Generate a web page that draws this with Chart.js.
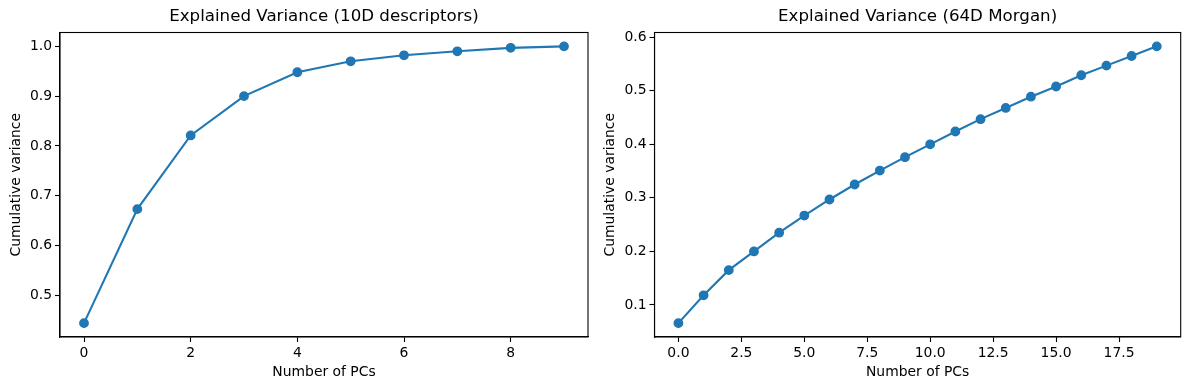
<!DOCTYPE html>
<html>
<head>
<meta charset="utf-8">
<script src="https://cdn.jsdelivr.net/npm/chart.js@4/dist/chart.umd.min.js"></script>
<style>
  html, body { margin: 0; padding: 0; background: #fff; }
  body { width: 1189px; height: 390px; position: relative; overflow: hidden; }
  canvas { position: absolute; top: 0; }
</style>
</head>
<body>
<canvas id="left" width="594" height="390" style="left:0px"></canvas>
<canvas id="right" width="595" height="390" style="left:594px"></canvas>
<script>
// ---- data ----
const leftTitle = "Explained Variance (10D descriptors)";
const rightTitle = "Explained Variance (64D Morgan)";
const xAxisTitle = "Number of PCs";
const yAxisTitle = "Cumulative variance";

const pcsLeft = [0, 1, 2, 3, 4, 5, 6, 7, 8, 9];
const varianceLeft = [0.444, 0.673, 0.821, 0.900, 0.948, 0.970, 0.982, 0.990, 0.997, 1.000];

const pcsRight = [0, 1, 2, 3, 4, 5, 6, 7, 8, 9, 10, 11, 12, 13, 14, 15, 16, 17, 18, 19];
const varianceRight = [0.066, 0.118, 0.165, 0.200, 0.235, 0.267, 0.297, 0.325, 0.351, 0.376,
                       0.400, 0.424, 0.447, 0.468, 0.489, 0.508, 0.529, 0.547, 0.565, 0.583];

const xTicksLeft = [0, 2, 4, 6, 8];
const yTicksLeft = [0.5, 0.6, 0.7, 0.8, 0.9, 1.0];
const xTicksRight = [0, 2.5, 5, 7.5, 10, 12.5, 15, 17.5];
const yTicksRight = [0.1, 0.2, 0.3, 0.4, 0.5, 0.6];

// ---- styling ----
Chart.defaults.color = '#000';
Chart.defaults.font.family = '"DejaVu Sans", sans-serif';
const lineColor = '#1f77b4';
const tickFont = { family: '"DejaVu Sans", sans-serif', size: 13.9 };

const frame = {
  id: 'frame',
  afterDatasetsDraw(chart) {
    const a = chart.chartArea, c = chart.ctx;
    c.save();
    c.strokeStyle = '#000';
    c.lineWidth = 1.1;
    c.strokeRect(a.left, a.top, a.right - a.left, a.bottom - a.top);
    c.restore();
  }
};

function margins(arr) {
  const lo = Math.min(...arr), hi = Math.max(...arr), r = hi - lo;
  return [lo - 0.05 * r, hi + 0.05 * r];
}

function makeChart(id, title, xs, ys, xTicks, yTicks, xDigits, yAxisWidth, rightPad) {
  const [xmin, xmax] = margins(xs);
  const [ymin, ymax] = margins(ys);
  const pts = xs.map((x, i) => ({ x: x, y: ys[i] }));
  return new Chart(document.getElementById(id), {
    type: 'scatter',
    data: {
      datasets: [{
        data: pts,
        showLine: true,
        borderColor: lineColor,
        backgroundColor: lineColor,
        borderWidth: 2.1,
        pointRadius: 4.2,
        pointHoverRadius: 4.2,
        pointBorderWidth: 1.4,
        pointBorderColor: lineColor,
        tension: 0
      }]
    },
    options: {
      responsive: false,
      devicePixelRatio: 1,
      animation: false,
      events: [],
      layout: { padding: { left: 0, right: rightPad, top: 0, bottom: 0 } },
      plugins: {
        legend: { display: false },
        tooltip: { enabled: false },
        title: {
          display: true,
          text: title,
          fullSize: false,
          color: '#000',
          font: { family: '"DejaVu Sans", sans-serif', size: 16.67, weight: 'normal', lineHeight: 1.2 },
          padding: { top: 7, bottom: 5.5 }
        }
      },
      scales: {
        x: {
          type: 'linear',
          min: xmin, max: xmax,
          afterBuildTicks: s => { s.ticks = xTicks.map(v => ({ value: v })); },
          afterFit: s => { s.height = 53; },
          grid: { drawOnChartArea: false, drawTicks: true, tickLength: 5, tickColor: '#000', tickWidth: 1.1 },
          border: { display: true, color: '#000', width: 1.1 },
          ticks: {
            font: tickFont, color: '#000', padding: 3, maxRotation: 0, autoSkip: false,
            callback: v => Number(v).toFixed(xDigits)
          },
          title: {
            display: true, text: xAxisTitle, color: '#000',
            font: tickFont, padding: { top: 0, bottom: 9.5 }
          }
        },
        y: {
          type: 'linear',
          min: ymin, max: ymax,
          afterBuildTicks: s => { s.ticks = yTicks.map(v => ({ value: v })); },
          afterFit: s => { s.width = yAxisWidth; },
          grid: { drawOnChartArea: false, drawTicks: true, tickLength: 5, tickColor: '#000', tickWidth: 1.1 },
          border: { display: true, color: '#000', width: 1.1 },
          ticks: {
            font: tickFont, color: '#000', padding: 3, autoSkip: false,
            callback: v => Number(v).toFixed(1)
          },
          title: {
            display: true, text: yAxisTitle, color: '#000',
            font: tickFont, padding: { top: 8, bottom: 0 }
          }
        }
      }
    },
    plugins: [frame]
  });
}

makeChart('left', leftTitle, pcsLeft, varianceLeft, xTicksLeft, yTicksLeft, 0, 60, 6);
makeChart('right', rightTitle, pcsRight, varianceRight, xTicksRight, yTicksRight, 1, 60.5, 8.3);
</script>
</body>
</html>
